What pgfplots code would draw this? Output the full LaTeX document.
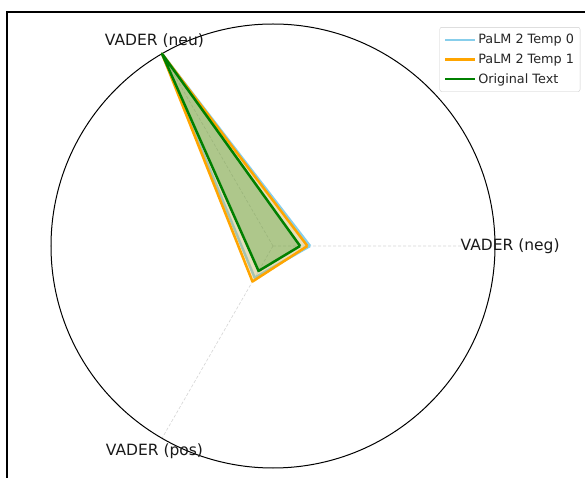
\documentclass[border=0pt]{standalone}
\usepackage{fontspec}
\setmainfont{DejaVu Sans}
\usepackage{pgfplots}
\usepgfplotslibrary{polar}
\pgfplotsset{compat=1.18}
\definecolor{mplsky}{RGB}{135,206,235}
\definecolor{mplorange}{RGB}{255,165,0}
\definecolor{mplgreen}{RGB}{0,128,0}
\begin{document}
\begin{tikzpicture}
\begin{polaraxis}[
  at={(273pt,232pt)}, anchor=center,
  scale only axis, width=444pt, height=444pt,
  ymin=0, ymax=1,
  xtick={0,120,240}, xticklabels={,,},
  ytick=\empty,
  major tick length=0pt,
  xmajorgrids, ymajorgrids=false,
  major x grid style={densely dashed, black!17, line width=0.6pt},
  x axis line style={black, line width=1pt},
  y axis line style={draw=none},
  clip=false,
  legend cell align=left,
  legend style={at={(1.192,0.993)}, anchor=north east,
    font=\fontsize{12.8}{14}\selectfont, text=black!85,
    draw=black!20, rounded corners=2pt, fill=white,
    row sep=4.5pt, inner xsep=4pt, inner ysep=5pt},
  legend image code/.code={\draw[#1, line width=2.5pt] (0pt,0pt) -- (30pt,0pt);},
]
% PaLM 2 Temp 0
\addplot[mplsky, line width=2.5pt, line join=round] table {
0 0.167
120 1.0
240 0.165
360 0.167
};
\addlegendentry{PaLM 2 Temp 0}
\addplot[fill=mplsky, fill opacity=0.25, draw=none, forget plot] table {
0 0.167
120 1.0
240 0.165
360 0.167
};
% PaLM 2 Temp 1
\addplot[mplorange, line width=2.5pt, line join=round] table {
0 0.155
120 1.0
240 0.185
360 0.155
};
\addlegendentry{PaLM 2 Temp 1}
\addplot[fill=mplorange, fill opacity=0.25, draw=none, forget plot] table {
0 0.155
120 1.0
240 0.185
360 0.155
};
% Original Text
\addplot[mplgreen, line width=2.5pt, line join=round] table {
0 0.122
120 1.0
240 0.13
360 0.122
};
\addlegendentry{Original Text}
\addplot[fill=mplgreen, fill opacity=0.25, draw=none, forget plot] table {
0 0.122
120 1.0
240 0.13
360 0.122
};
\node[font=\fontsize{15.5}{18}\selectfont, text=black!90] at (axis cs:0,1.068) {VADER (neg)};
\node[font=\fontsize{15.5}{18}\selectfont, text=black!90] at (axis cs:120,1.068) {VADER (neu)};
\node[font=\fontsize{15.5}{18}\selectfont, text=black!90] at (axis cs:240,1.068) {VADER (pos)};
\end{polaraxis}
\draw[line width=1.8pt] (7pt,-20pt) rectangle (620pt,466pt);
\pgfresetboundingbox
\useasboundingbox (0pt,0pt) rectangle (585pt,478pt);
\end{tikzpicture}
\end{document}
